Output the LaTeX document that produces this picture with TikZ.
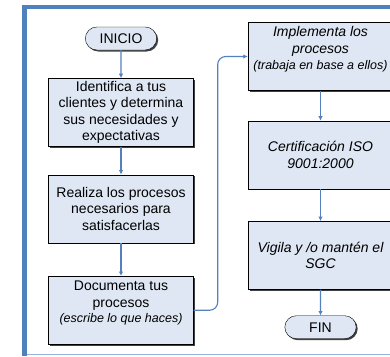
\documentclass[tikz,border=0pt]{standalone}
\usepackage{fontspec}
\setmainfont{Liberation Sans}
\usepackage{xcolor}
\usetikzlibrary{positioning, arrows.meta, shapes.misc, shadows}
\definecolor{marco}{RGB}{79,129,189}
\definecolor{marcoclaro}{RGB}{149,179,215}
\definecolor{relleno}{RGB}{222,231,243}
\definecolor{linea}{RGB}{84,128,190}
\tikzstyle{terminal} = [rounded rectangle, minimum width=78pt, minimum height=23pt, text centered, draw=black, fill=relleno, drop shadow={shadow xshift=1.5pt, shadow yshift=-1.5pt, fill=black!75, opacity=1}, font=\fontsize{14}{16}\selectfont]
\tikzstyle{proceso} = [rectangle, minimum width=145pt, minimum height=68pt, align=center, inner sep=2pt, draw=black, fill=relleno, drop shadow={shadow xshift=1.5pt, shadow yshift=-1.5pt, fill=black!75, opacity=1}, font=\fontsize{14}{16.5}\selectfont]
\tikzstyle{flecha} = [line width=1.1pt, draw=linea, -{Latex[length=4.5pt,width=4.5pt]}]

\begin{document}
\begin{tikzpicture}[x=1pt, y=-1pt, node distance=28pt]
        \useasboundingbox (0,0) rectangle (390,356);

        % Marco
        \draw [marcoclaro, line width=1pt] (22,354.5) -- (390,354.5);
        \draw [marco, line width=4.5pt] (24.5,356) -- (24.5,7.2) -- (390,7.2);

        % Nodos
        \node (inicio) [terminal] at (121,38.5) {INICIO};
        \node (identifica) [proceso, below=of inicio] {Identifica a tus\\clientes y determina\\sus necesidades y\\expectativas};
        \node (realiza) [proceso, below=of identifica] {Realiza los procesos\\necesarios para\\satisfacerlas};
        \node (documenta) [proceso, below=33pt of realiza] {Documenta tus\\procesos\\[-1pt]{\fontsize{12.5}{15}\selectfont\itshape (escribe lo que haces)}\\\mbox{}};
        \node (implementa) [proceso, font=\fontsize{14}{16.5}\selectfont\itshape] at (320.5,56.5) {Implementa los\\procesos\\{\fontsize{12.5}{16.5}\selectfont (trabaja en base a ellos)}\\\mbox{}};
        \node (certifica) [proceso, below=30pt of implementa, font=\fontsize{14}{16.5}\selectfont\itshape] {Certificación ISO\\9001:2000};
        \node (vigila) [proceso, below=32pt of certifica, font=\fontsize{14}{16.5}\selectfont\itshape] {Vigila y /o mantén el\\SGC};
        \node (fin) [terminal, below=26pt of vigila] {FIN};

        % Flechas
        \draw [flecha] (inicio) -- (identifica);
        \draw [flecha] (identifica) -- (realiza);
        \draw [flecha] (realiza) -- (documenta);
        \draw [flecha, rounded corners=8pt] (documenta.east) -- ++(24,0) |- (implementa.west);
        \draw [flecha] (implementa) -- (certifica);
        \draw [flecha] (certifica) -- (vigila);
        \draw [flecha] (vigila) -- (fin);

\end{tikzpicture}
\end{document}
